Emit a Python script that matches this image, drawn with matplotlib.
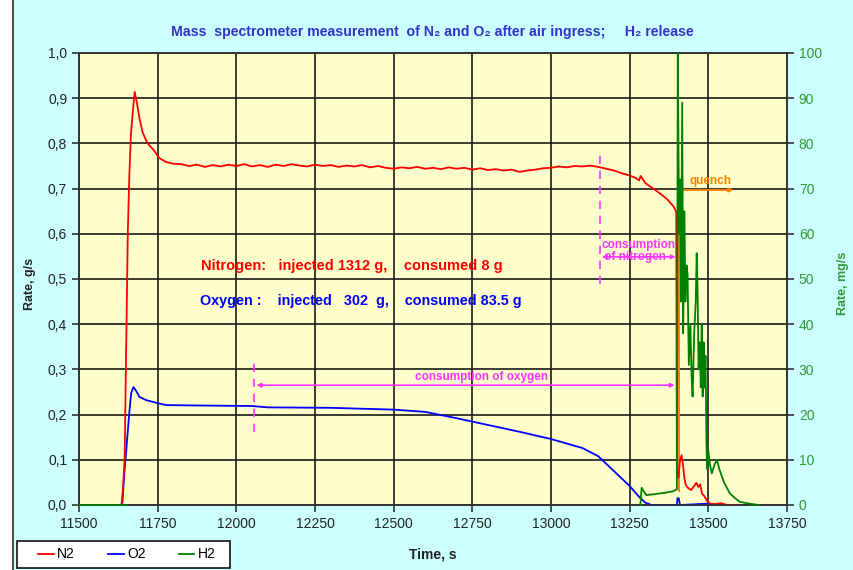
import matplotlib
matplotlib.use("Agg")
import matplotlib.pyplot as plt
import numpy as np
from matplotlib.patches import Rectangle
from matplotlib.lines import Line2D

plt.rcParams['font.family'] = ['Liberation Sans', 'DejaVu Sans']

# N2 rate, g/s
n2_time = [11500, 11635, 11640, 11645, 11650, 11655, 11660, 11665, 11671, 11677,
           11684, 11692, 11702, 11713, 11723, 11738, 11754, 11776, 11800,
           11825, 11850, 11875, 11900, 11925, 11950, 11975, 12000, 12025, 12050,
           12075, 12100, 12125, 12150, 12175, 12200, 12225, 12250, 12275, 12300,
           12325, 12350, 12375, 12400, 12425, 12450, 12475, 12500, 12525, 12550,
           12575, 12600, 12625, 12650, 12675, 12700, 12725, 12750, 12775, 12800,
           12825, 12850, 12875, 12900, 12925, 12950, 12975, 13000, 13025, 13050,
           13075, 13100, 13125, 13150,
           13175, 13200, 13225, 13250, 13270, 13280, 13285, 13300, 13325, 13345,
           13370, 13390, 13398, 13400, 13405, 13410, 13415, 13420, 13424, 13428,
           13435, 13445, 13455, 13462, 13468, 13474, 13480, 13487, 13495, 13505,
           13520, 13540, 13560, 13584]
n2_rate = [0.0, 0.0, 0.04, 0.10, 0.35, 0.60, 0.73, 0.82, 0.87, 0.914,
           0.89, 0.856, 0.825, 0.807, 0.796, 0.785, 0.768, 0.759, 0.755,
           0.754, 0.750, 0.753, 0.748, 0.752, 0.749, 0.753, 0.750, 0.754, 0.749,
           0.752, 0.748, 0.753, 0.750, 0.754, 0.751, 0.749, 0.753, 0.750, 0.752,
           0.748, 0.751, 0.749, 0.752, 0.747, 0.750, 0.746, 0.744, 0.747, 0.745,
           0.748, 0.744, 0.746, 0.743, 0.747, 0.744, 0.746, 0.742, 0.745, 0.741,
           0.743, 0.740, 0.742, 0.737, 0.740, 0.742, 0.745, 0.746, 0.749, 0.747,
           0.750, 0.749, 0.751, 0.748,
           0.744, 0.740, 0.734, 0.729, 0.723, 0.718, 0.728, 0.712, 0.700, 0.690,
           0.676, 0.660, 0.648, 0.075, 0.060, 0.100, 0.110, 0.085, 0.060, 0.045,
           0.038, 0.033, 0.042, 0.049, 0.040, 0.046, 0.025, 0.020, 0.010, 0.003,
           0.002, 0.004, 0.0, 0.0]

# O2 rate, g/s
o2_time = [11500, 11634, 11638, 11644, 11651, 11660, 11666, 11673, 11682, 11692,
           11714, 11746, 11778, 11900, 12050, 12100, 12300, 12500, 12600, 12700,
           12800, 12900, 13000, 13100, 13150, 13200, 13250, 13280, 13300, 13320,
           13400, 13402, 13406, 13410, 13500, 13510]
o2_rate = [0.0, 0.0, 0.006, 0.07, 0.128, 0.206, 0.248, 0.261, 0.252, 0.239,
           0.232, 0.226, 0.221, 0.220, 0.219, 0.216, 0.215, 0.211, 0.206, 0.192,
           0.177, 0.162, 0.146, 0.126, 0.108, 0.075, 0.042, 0.018, 0.005, 0.0,
           0.0, 0.015, 0.015, 0.0, 0.003, 0.0]

# H2 rate, mg/s (no signal between the two stretches)
h2_time = [11500, 11650, 11651, 13284, 13288, 13295, 13303, 13330, 13361, 13386,
           13398, 13400, 13403, 13407, 13410, 13413, 13417, 13420, 13424, 13427,
           13431, 13434, 13438, 13443, 13447, 13450, 13455, 13460, 13463, 13466,
           13469, 13473, 13476, 13479, 13482, 13485, 13488, 13491, 13494, 13496,
           13500, 13505, 13511, 13520, 13527, 13536, 13550, 13568, 13585, 13600,
           13630, 13660]
h2_rate = [0.0, 0.0, np.nan, 0.0, 3.8, 3.0, 2.2, 2.4, 2.7, 3.0,
           3.4, 3.5, 100.0, 60.0, 72.0, 45.0, 89.0, 38.0, 65.0, 45.0,
           53.0, 51.0, 31.0, 40.0, 28.0, 24.0, 38.0, 45.0, 55.7, 47.0,
           30.0, 36.0, 26.0, 40.0, 24.0, 36.0, 26.0, 33.0, 14.0, 8.0,
           12.0, 9.0, 7.0, 9.0, 10.0, 7.7, 5.0, 2.6, 1.5, 0.7,
           0.3, 0.0]

x_ticks = list(range(11500, 13751, 250))
y_ticks = [i / 10 for i in range(11)]
y_tick_labels = [f"{v:.1f}".replace(".", ",") for v in y_ticks]
y2_ticks = list(range(0, 101, 10))

fig = plt.figure(figsize=(8.54, 5.7), dpi=100)
fig.patch.set_facecolor("white")
fig.patches.append(Rectangle((14 / 854, 0), 1, 1, transform=fig.transFigure,
                             facecolor="#ccffff", edgecolor="none", zorder=-10))
fig.lines.append(Line2D([13.5 / 854, 13.5 / 854], [0, 1], transform=fig.transFigure,
                        color="#555555", lw=1.5))

ax = fig.add_axes([79 / 854, 1 - 505 / 570, 708 / 854, 452 / 570])
ax.set_facecolor("#ffffcc")
ax2 = ax.twinx()

ax.plot(o2_time, o2_rate, color="#0000ff", lw=1.3, label="O2", zorder=3, clip_on=False)
ax.plot(n2_time, n2_rate, color="#ff0000", lw=1.3, label="N2", zorder=3, clip_on=False)
ax2.plot(h2_time, h2_rate, color="#008000", lw=1.3, label="H2", zorder=3, clip_on=False)

ax.set_xlim(11500, 13750)
ax.set_ylim(0, 1.0)
ax2.set_ylim(0, 100)
ax.set_xticks(x_ticks)
ax.set_yticks(y_ticks)
ax.set_yticklabels(y_tick_labels)
ax2.set_yticks(y2_ticks)

ax.grid(True, color="#1a1a1a", lw=1.2)
ax.set_axisbelow(True)
for a in (ax, ax2):
    for s in a.spines.values():
        s.set_color("#333333")
        s.set_linewidth(1.2)
ax.tick_params(axis="both", direction="out", length=5, width=1.2, color="#333333",
               labelsize=10, labelcolor="#222222")
ax2.tick_params(axis="y", direction="out", length=5, width=1.2, color="#333333",
                labelsize=10, labelcolor="#339933")

ax.set_ylabel("Rate, g/s", fontsize=9, fontweight="bold", color="#222222")
ax.yaxis.set_label_coords(-0.061, 0.49)
ax2.set_ylabel("Rate, mg/s", fontsize=9, fontweight="bold", color="#339933")
ax2.yaxis.set_label_coords(1.071, 0.49)
ax.set_xlabel("Time, s", fontsize=10, fontweight="bold", color="#222222")
ax.xaxis.set_label_coords(0.5, -0.095)

fig.text(432 / 854, 1 - 32 / 570,
         "Mass  spectrometer measurement  of N\u2082 and O\u2082 after air ingress;     H\u2082 release",
         ha="center", va="center", fontsize=10.2, fontweight="bold", color="#3333cc")

# annotations
mag = "#ff33ff"
ax.text(11889, 0.529, "Nitrogen:   injected 1312 g,    consumed 8 g",
        color="#ff0000", fontsize=10.5, fontweight="bold", va="center")
ax.text(11886, 0.451, "Oxygen :    injected   302  g,    consumed 83.5 g",
        color="#0000ff", fontsize=10.4, fontweight="bold", va="center")

ax.plot([12055, 12055], [0.161, 0.327], color=mag, lw=1.2, ls=(0, (5, 4)))
ax.plot([13157, 13157], [0.49, 0.775], color=mag, lw=1.2, ls=(0, (5, 4)))
ax.annotate("", xy=(13393, 0.265), xytext=(12064, 0.265),
            arrowprops=dict(arrowstyle="<|-|>", color=mag, lw=1.2,
                            mutation_scale=6, shrinkA=0, shrinkB=0))
ax.text(12778, 0.283, "consumption of oxygen", color=mag, fontsize=8.5,
        fontweight="bold", ha="center", va="center")
ax.annotate("", xy=(13396, 0.549), xytext=(13162, 0.549),
            arrowprops=dict(arrowstyle="<|-|>", color=mag, lw=1.2,
                            mutation_scale=6, shrinkA=0, shrinkB=0))
ax.text(13160, 0.562, "consumption\n of nitrogen", color=mag, fontsize=8.5,
        fontweight="bold", ha="left", va="center", linespacing=0.95)

orange = "#ff8000"
ax.plot([13407, 13407], [0.03, 0.697], color=orange, lw=1.4)
ax.annotate("", xy=(13580, 0.697), xytext=(13407, 0.697),
            arrowprops=dict(arrowstyle="-|>", color=orange, lw=1.4,
                            mutation_scale=6, shrinkA=0, shrinkB=0))
ax.text(13440, 0.717, "quench", color=orange, fontsize=8.5, fontweight="bold",
        ha="left", va="center")

# legend box drawn separately so the items can sit where the original has them
fig.patches.append(Rectangle((17 / 854, 2 / 570), 213 / 854, 27 / 570,
                             transform=fig.transFigure, facecolor="white",
                             edgecolor="#111111", lw=1.2, zorder=5))
handles = [ax.get_lines()[1], ax.get_lines()[0], ax2.get_lines()[0]]
leg = fig.legend(handles, ["N2", "O2", "H2"], loc="center",
                 bbox_to_anchor=(127 / 854, 15.5 / 570), ncol=3, fontsize=10,
                 frameon=False, handlelength=1.1, handletextpad=0.25,
                 columnspacing=2.4, borderpad=0.2, borderaxespad=0)
leg.set_zorder(6)

fig.savefig("out.png", dpi=100)
